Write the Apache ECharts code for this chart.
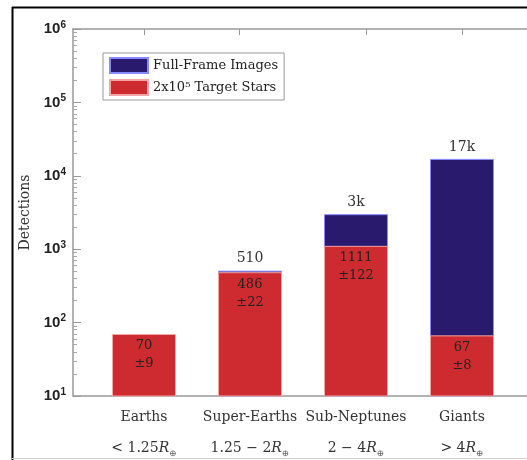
<!DOCTYPE html>
<html>
<head>
<meta charset="utf-8">
<script src="https://cdn.jsdelivr.net/npm/echarts@6/dist/echarts.min.js"></script>
<style>
  html, body { margin: 0; padding: 0; background: #fff; }
  #chart { width: 527px; height: 460px; }
</style>
</head>
<body>
<div id="chart"></div>
<script>
// categories and ranges
var categories = ['Earths', 'Super-Earths', 'Sub-Neptunes', 'Giants'];
var radiusText = ['< 1.25', '1.25 \u2212 2', '2 \u2212 4', '> 4'];
var positions = [1, 2, 3, 4];

// detections
var targetStars = [70, 486, 1111, 67];
var targetErr = [9, 22, 122, 8];
var totalDetections = [null, 510, 3000, 17000];  // full-frame images total (drawn behind)
var totalLabels = ['', '510', '3k', '17k'];

var yTicks = [10, 100, 1000, 10000, 100000, 1000000];

var serif = '"DejaVu Serif", "Liberation Serif", serif';
var sans = '"Liberation Sans", Arial, sans-serif';

var minorTicks = [];
for (var d = 1; d < 6; d++) {
    for (var k = 2; k < 10; k++) {
        minorTicks.push(k * Math.pow(10, d));
    }
}

function pairs(vals) {
    var out = [];
    for (var i = 0; i < vals.length; i++) {
        out.push([positions[i], vals[i] == null ? '-' : vals[i]]);
    }
    return out;
}

var chart = echarts.init(document.getElementById('chart'));

var option = {
    animation: false,
    backgroundColor: '#fff',
    grid: { left: 73, top: 29, bottom: 64, width: 460, outerBoundsMode: 'none', containLabel: false },
    graphic: [
        { type: 'line', shape: { x1: 12.5, y1: 7, x2: 12.5, y2: 460 }, style: { stroke: '#000', lineWidth: 2 } },
        { type: 'line', shape: { x1: 12, y1: 7.5, x2: 527, y2: 7.5 }, style: { stroke: '#000', lineWidth: 2 } },
        { type: 'line', shape: { x1: 12, y1: 458.5, x2: 527, y2: 458.5 }, style: { stroke: '#d0d0d0', lineWidth: 1 } }
    ],
    legend: {
        orient: 'vertical',
        left: 103,
        top: 53,
        padding: [4, 6, 4, 6],
        itemGap: 5,
        itemWidth: 38,
        itemHeight: 15,
        borderColor: '#999',
        borderWidth: 1,
        icon: 'rect',
        data: ['Full-Frame Images', '2x10\u2075 Target Stars'],
        textStyle: { fontFamily: serif, fontSize: 13, color: '#222' }
    },
    xAxis: [
        {
            type: 'value',
            min: 0.33,
            max: 4.67,
            position: 'bottom',
            splitLine: { show: false },
            axisLine: { lineStyle: { color: '#999', width: 1.5 } },
            axisTick: { show: false },
            axisLabel: {
                customValues: positions,
                margin: 6,
                formatter: function (v) {
                    var i = positions.indexOf(v);
                    if (i < 0) return '';
                    return '{n|' + categories[i] + '}\n{m|' + radiusText[i] + '}{r|R}{s|\u2295}';
                },
                rich: {
                    n: { fontFamily: serif, fontSize: 14, color: '#333', lineHeight: 30 },
                    m: { fontFamily: serif, fontSize: 14, color: '#333', lineHeight: 32 },
                    r: { fontFamily: serif, fontSize: 14, fontStyle: 'italic', color: '#333', lineHeight: 32 },
                    s: { fontFamily: serif, fontSize: 9, color: '#666', lineHeight: 12, verticalAlign: 'bottom', padding: [0, 0, 6, 0] }
                }
            }
        },
        {
            type: 'value',
            min: 0.33,
            max: 4.67,
            position: 'top',
            splitLine: { show: false },
            axisLine: { lineStyle: { color: '#999', width: 1.5 } },
            axisTick: { inside: true, length: 6, customValues: [1, 1.9, 3.1, 4], lineStyle: { color: '#999' } },
            axisLabel: { show: false }
        }
    ],
    yAxis: [
        {
            type: 'log',
            logBase: 10,
            min: 10,
            max: 1000000,
            name: 'Detections',
            nameLocation: 'middle',
            nameGap: 39,
            nameRotate: 90,
            nameTextStyle: { fontFamily: serif, fontSize: 14, color: '#333' },
            splitLine: { show: false },
            axisLine: { lineStyle: { color: '#999', width: 1.5 } },
            axisTick: { inside: true, length: 8, customValues: yTicks, lineStyle: { color: '#999' } },
            axisLabel: {
                customValues: yTicks,
                margin: 7,
                formatter: function (v) {
                    return '{b|10}{e|' + Math.round(Math.log10(v)) + '}';
                },
                rich: {
                    b: { fontFamily: sans, fontWeight: 'bold', fontSize: 15, color: '#222', lineHeight: 18 },
                    e: { fontFamily: sans, fontWeight: 'bold', fontSize: 10, color: '#222', lineHeight: 10, verticalAlign: 'top' }
                }
            }
        },
        {
            type: 'log',
            logBase: 10,
            min: 10,
            max: 1000000,
            position: 'left',
            splitLine: { show: false },
            axisLine: { show: true, lineStyle: { color: 'rgba(0,0,0,0)' } },
            axisTick: { show: true, inside: true, length: 4, customValues: minorTicks, lineStyle: { color: '#aaa' } },
            axisLabel: { show: false }
        }
    ],
    series: [
        {
            name: 'Full-Frame Images',
            type: 'bar',
            barWidth: 64,
            data: pairs(totalDetections),
            itemStyle: { color: '#2a1a6e', borderColor: '#8a8aff', borderWidth: 1 },
            label: {
                show: true,
                position: 'top',
                distance: 5,
                fontFamily: serif,
                fontSize: 14,
                color: '#333',
                formatter: function (p) {
                    return totalLabels[p.dataIndex];
                }
            }
        },
        {
            name: '2x10\u2075 Target Stars',
            type: 'bar',
            barWidth: 64,
            barGap: '-100%',
            data: pairs(targetStars),
            itemStyle: { color: '#cd2b30', borderColor: '#f2a6a8', borderWidth: 1 },
            label: {
                show: true,
                position: 'insideTop',
                distance: 3,
                fontFamily: serif,
                fontSize: 13,
                lineHeight: 18,
                color: '#222',
                formatter: function (p) {
                    return targetStars[p.dataIndex] + '\n\u00b1' + targetErr[p.dataIndex];
                }
            }
        }
    ]
};

chart.setOption(option);
</script>
</body>
</html>
